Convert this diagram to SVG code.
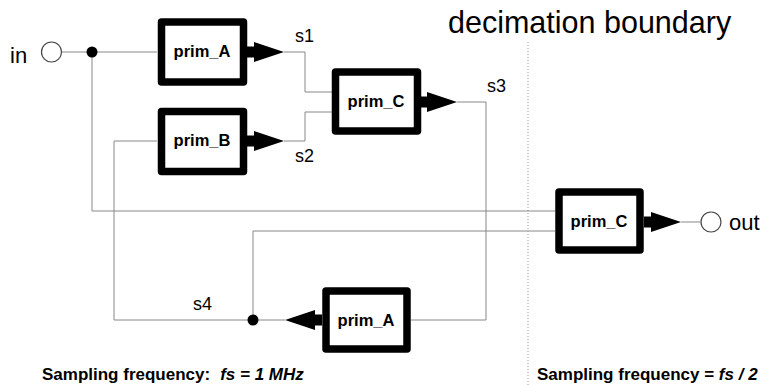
<svg xmlns="http://www.w3.org/2000/svg" width="770" height="385" viewBox="0 0 770 385">
<style>
.box{fill:#fff;stroke:#000;stroke-width:7.5;stroke-linejoin:round}
.lbl{font-family:"Liberation Sans",Arial,sans-serif;font-weight:bold;font-size:16.5px;text-anchor:middle;fill:#000}
.wire{fill:none;stroke:#888;stroke-width:1}
.sig{font-family:"Liberation Sans",Arial,sans-serif;font-size:18px;fill:#000}
.note{font-family:"Liberation Sans",Arial,sans-serif;font-weight:bold;font-size:17px;fill:#000}
.port{fill:#fff;stroke:#444;stroke-width:1.2}
</style>
<defs>
<path id="arr" d="M0,-5.5 H7 V-10 L37,0 L7,10 V5.5 H0 Z" fill="#000"/>
</defs>
<g id="connectors">
<path class="wire" d="M61.5,52 H157"/>
<path class="wire" d="M92,52 V211 H555"/>
<path class="wire" d="M157,141 H114 V320 H285"/>
<path class="wire" d="M253,320 V231 H555"/>
<path class="wire" d="M284,52 H305 V92 H332"/>
<path class="wire" d="M284,141 H305 V112 H332"/>
<path class="wire" d="M457,102 H486 V320 H411"/>
<path class="wire" d="M681,222 H700"/>
<line x1="528" y1="42" x2="528" y2="385" stroke="#999" stroke-width="1" stroke-dasharray="1,2"/>
<circle cx="92" cy="52" r="5.5" fill="#000"/>
<circle cx="253" cy="320" r="5.5" fill="#000"/>
<use href="#arr" transform="translate(247,52)"/>
<use href="#arr" transform="translate(247,141)"/>
<use href="#arr" transform="translate(420,102)"/>
<use href="#arr" transform="translate(644,222)"/>
<use href="#arr" transform="translate(322,320) scale(-1,1)"/>
</g>
<g id="in">
<circle class="port" cx="51.5" cy="52" r="10"/>
<text class="sig" x="10" y="63" style="font-size:22px">in</text>
</g>
<g id="out">
<circle class="port" cx="711" cy="222" r="10"/>
<text class="sig" x="729" y="230" style="font-size:22px">out</text>
</g>
<g id="prim_A_top">
<rect class="box" x="161.5" y="22" width="82" height="60"/>
<text class="lbl" x="202" y="57">prim_A</text>
</g>
<g id="prim_B">
<rect class="box" x="161.5" y="111.5" width="82" height="60"/>
<text class="lbl" x="202" y="146">prim_B</text>
</g>
<g id="prim_C_top">
<rect class="box" x="335.5" y="72" width="82" height="59"/>
<text class="lbl" x="376" y="107">prim_C</text>
</g>
<g id="prim_C_right">
<rect class="box" x="559" y="192" width="81" height="58"/>
<text class="lbl" x="599" y="227">prim_C</text>
</g>
<g id="prim_A_bottom">
<rect class="box" x="326" y="291" width="81" height="58"/>
<text class="lbl" x="366" y="326">prim_A</text>
</g>
<g id="labels">
<text class="sig" x="295" y="42">s1</text>
<text class="sig" x="295" y="162">s2</text>
<text class="sig" x="487" y="92">s3</text>
<text class="sig" x="193" y="310">s4</text>
<text class="sig" x="448" y="33" style="font-size:30.5px">decimation boundary</text>
<text class="note" x="42" y="380">Sampling frequency:<tspan dx="10" font-style="italic">fs = 1 MHz</tspan></text>
<text class="note" x="537" y="380">Sampling frequency = <tspan font-style="italic">fs / 2</tspan></text>
</g>
</svg>
